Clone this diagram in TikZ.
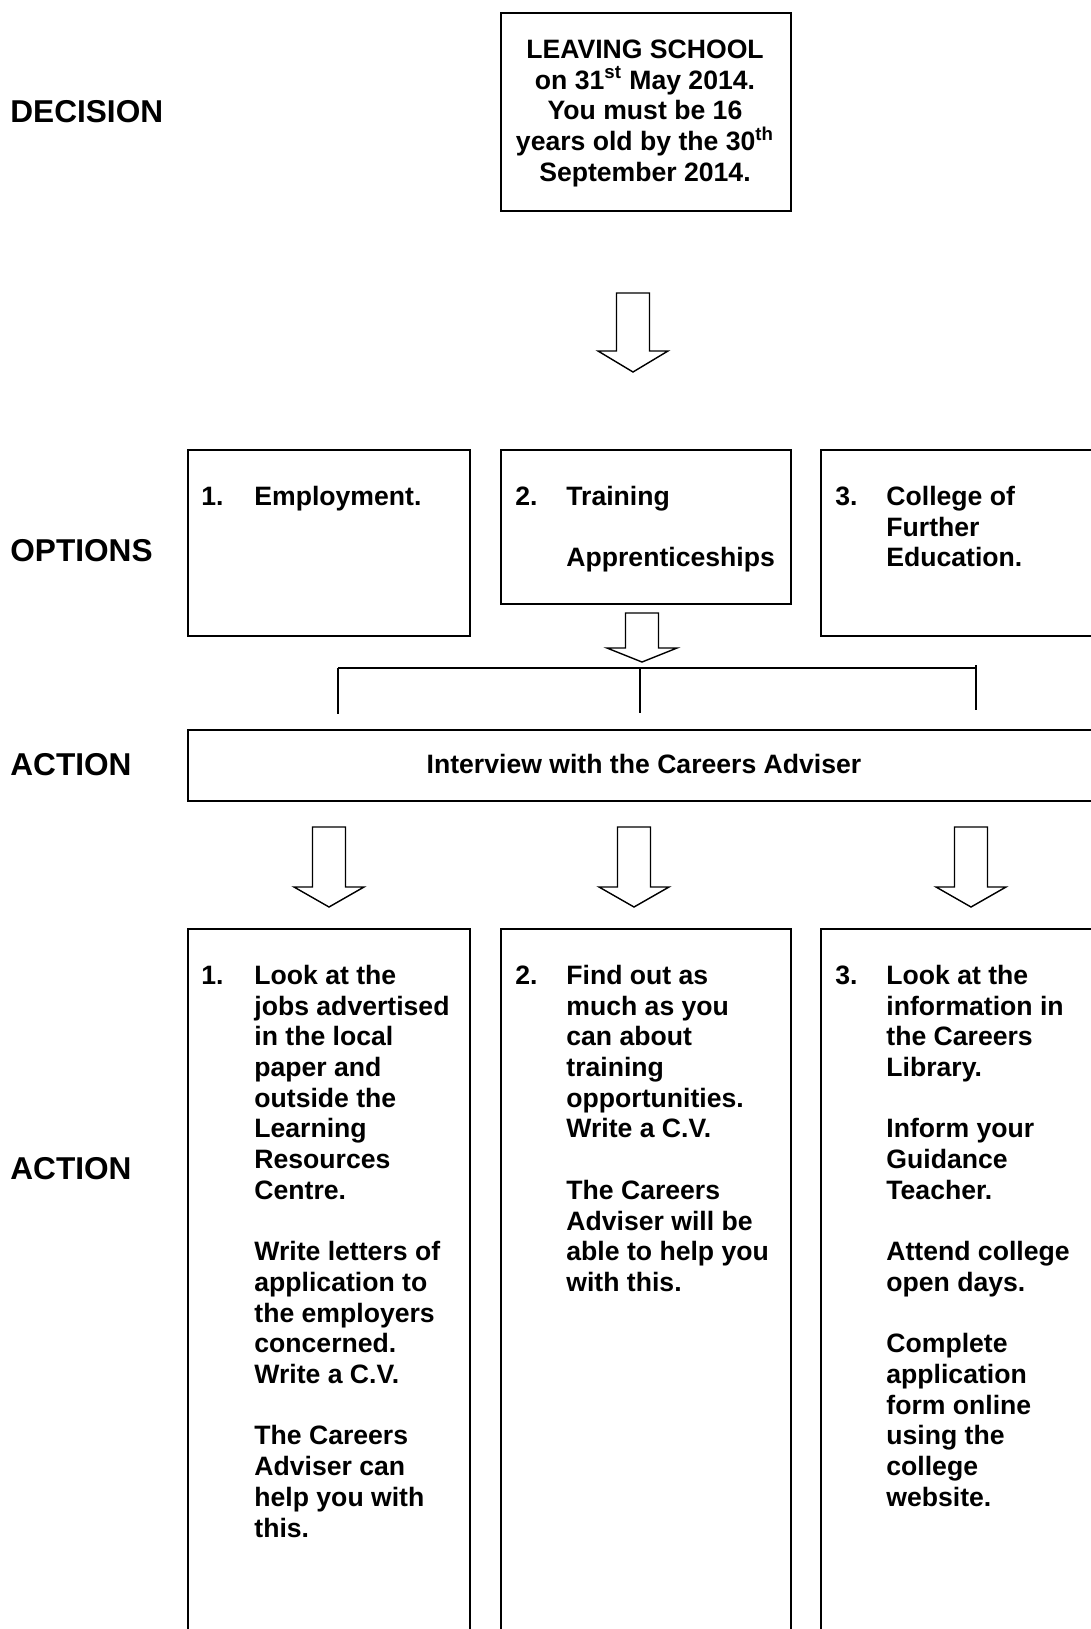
\documentclass[tikz,border=0pt]{standalone}
\usepackage{fontspec}
\setmainfont{Liberation Sans}
\newlength{\du}
\setlength{\du}{0.5pt}
% strut that fixes the height of a first line
\newcommand{\firstline}{\rule{0pt}{12pt}}
% hollow block arrow: centre x, top, end of shaft, tip
\newcommand{\blockarrow}[4]{%
\draw[hollowarrow] (#1-16.5,#2)--(#1+16.5,#2)--(#1+16.5,#3)--(#1+35,#3)--(#1,#4)--(#1-35,#3)--(#1-16.5,#3)--cycle;}
\tikzset{
  box/.style={draw, line width=2\du, rectangle, inner sep=0pt, anchor=north west},
  txt/.style={font=\bfseries\fontsize{13.3}{15.35}\selectfont, inner sep=0pt, align=left, anchor=north west},
  line/.style={font=\bfseries\fontsize{13.3}{15.35}\selectfont, inner sep=0pt},
  lbl/.style={font=\bfseries\fontsize{15.8}{18}\selectfont, inner sep=0pt, anchor=west},
  hollowarrow/.style={line width=1.4\du, line join=miter, fill=white},
  bracket/.style={line width=1.4\du}
}
\begin{document}
\begin{tikzpicture}[x=\du, y=\du]
\pgftransformyscale{-1.000000}
\useasboundingbox (0,0) rectangle (1091,1629);
\clip (0,0) rectangle (1091,1629);
% row labels
\node[lbl] (decision) at (10,112) {DECISION};
\node[lbl] (options) at (10,551) {OPTIONS};
\node[lbl] (action) at (10,765) {ACTION};
\node[lbl] (actiontwo) at (10,1169) {ACTION};
% decision
\node[box, minimum width=290\du, minimum height=198\du] (leaving) at (500,12) {};
\node[txt, align=center, anchor=north] (leavingtxt) at (645,34) {\firstline LEAVING SCHOOL\\on 31\textsuperscript{st} May 2014.\\You must be 16\\years old by the 30\textsuperscript{th}\\September 2014.};
\blockarrow{633}{293}{351}{372}
% options
\node[box, minimum width=282\du, minimum height=186\du] (employ) at (187,449) {};
\node[box, minimum width=290\du, minimum height=154\du] (training) at (500,449) {};
\node[box, minimum width=290\du, minimum height=186\du] (college) at (820,449) {};
\node[txt] (employnum) at (201,481) {\firstline 1.};
\node[txt] (employtxt) at (254,481) {\firstline Employment.};
\node[txt] (trainingnum) at (515,481) {\firstline 2.};
\node[txt] (trainingtxt) at (566,481) {\firstline Training\\[15.35pt]Apprenticeships};
\node[txt] (collegenum) at (835,481) {\firstline 3.};
\node[txt] (collegetxt) at (886,481) {\firstline College of\\Further\\Education.};
\blockarrow{642}{613}{648}{662}
% bracket
\coordinate (brl) at (338,668);
\coordinate (brm) at (640,668);
\coordinate (brr) at (977,668);
\coordinate (tickl) at (338,714);
\coordinate (tickm) at (640,713);
\coordinate (tickrtop) at (976,665);
\coordinate (tickr) at (976,710);
\draw[bracket] (brl)--(brr);
\draw[bracket] (brl)--(tickl);
\draw[bracket] (brm)--(tickm);
\draw[bracket] (tickrtop)--(tickr);
% action
\node[box, minimum width=920\du, minimum height=71\du] (interview) at (187,729) {};
\node[line] (interviewtxt) at (644,764) {Interview with the Careers Adviser};
\blockarrow{329}{827}{887}{907}
\blockarrow{634}{827}{887}{907}
\blockarrow{971}{827}{887}{907}
\node[box, minimum width=282\du, minimum height=720\du] (jobs) at (187,928) {};
\node[box, minimum width=290\du, minimum height=720\du] (findout) at (500,928) {};
\node[box, minimum width=290\du, minimum height=720\du] (library) at (820,928) {};
\node[txt] (jobsnum) at (201,960) {\firstline 1.};
\node[txt] (jobstxt) at (254,960) {\firstline Look at the\\jobs advertised\\in the local\\paper and\\outside the\\Learning\\Resources\\Centre.\\[15.35pt]Write letters of\\application to\\the employers\\concerned.\\Write a C.V.\\[15.35pt]The Careers\\Adviser can\\help you with\\this.};
\node[txt] (findoutnum) at (515,960) {\firstline 2.};
\node[txt] (findouttxt) at (566,960) {\firstline Find out as\\much as you\\can about\\training\\opportunities.\\Write a C.V.\\[15.35pt]The Careers\\Adviser will be\\able to help you\\with this.};
\node[txt] (librarynum) at (835,960) {\firstline 3.};
\node[txt] (librarytxt) at (886,960) {\firstline Look at the\\information in\\the Careers\\Library.\\[15.35pt]Inform your\\Guidance\\Teacher.\\[15.35pt]Attend college\\open days.\\[15.35pt]Complete\\application\\form online\\using the\\college\\website.};
\end{tikzpicture}
\end{document}
